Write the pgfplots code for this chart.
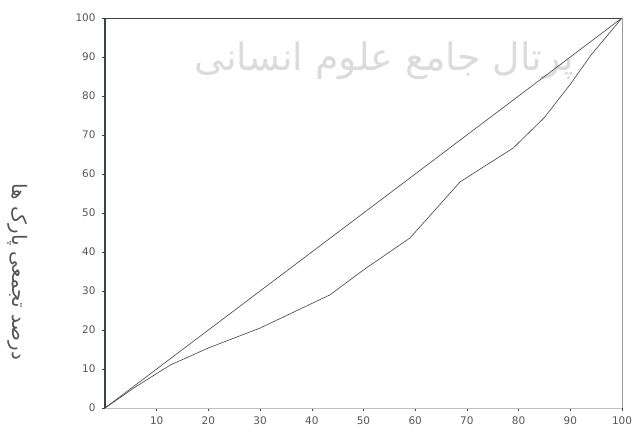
\documentclass[border=0pt]{standalone}
\usepackage{pgfplots}
\pgfplotsset{compat=1.18}
\usepackage{fontspec}
\setmainfont{DejaVu Sans}
\newfontfamily\farsi[Script=Arabic]{DejaVu Sans}
\TeXXeTstate=1
\definecolor{axdark}{HTML}{3C4444}
\definecolor{labgray}{HTML}{555555}
\begin{document}
\begin{tikzpicture}
\path[use as bounding box] (-105bp,-26bp) rectangle (527bp,408bp);
\begin{axis}[
  at={(0,0)}, anchor=origin,
  scale only axis,
  width=517bp, height=390bp,
  xmin=0, xmax=100, ymin=0, ymax=100,
  xtick={10,20,...,100},
  ytick={0,10,...,100},
  tick align=outside,
  major tick length=3bp,
  tick style={axdark, line width=0.6pt},
  xtick pos=bottom, ytick pos=left,
  axis line style={draw=none},
  tick label style={font=\fontsize{10.5}{11}\selectfont, text=labgray},
  xticklabel style={yshift=-2bp},
  yticklabel style={xshift=-3bp},
  /pgf/number format/assume math mode=true,
  clip=false,
]
% frame
\draw[axdark, line width=1.3pt] (rel axis cs:0,0) -- (rel axis cs:0,1);
\draw[axdark, line width=0.9pt] (rel axis cs:0,1) -- (rel axis cs:1,1);
\draw[gray!80, line width=0.5pt] (rel axis cs:1,1) -- (rel axis cs:1,0);
\draw[gray!50, line width=0.5pt] (rel axis cs:0,0) -- (rel axis cs:1,0);
% watermark
\node[text=gray!28, font=\farsi\fontsize{38}{40}\selectfont] at (rel axis cs:0.54,0.89) {\beginR پرتال جامع علوم انسانی\endR};
% line of equality
\addplot[black!75, line width=0.6pt] coordinates {(0,0) (100,100)};
% Lorenz curve
\addplot[black!75, line width=0.6pt] coordinates {
  (0,0) (6,5.5) (12.6,11) (20,15.4) (30,20.5) (43.5,29)
  (50,35.4) (59,43.6) (68.7,58) (79,66.7) (85,74.5) (90,83) (94,90.5) (100,100)
};
\end{axis}
\node[rotate=-90, text=labgray, font=\farsi\fontsize{20}{21}\selectfont] at (-87bp,136bp) {\beginR درصد تجمعی پارک ها\endR};
\end{tikzpicture}
\end{document}
